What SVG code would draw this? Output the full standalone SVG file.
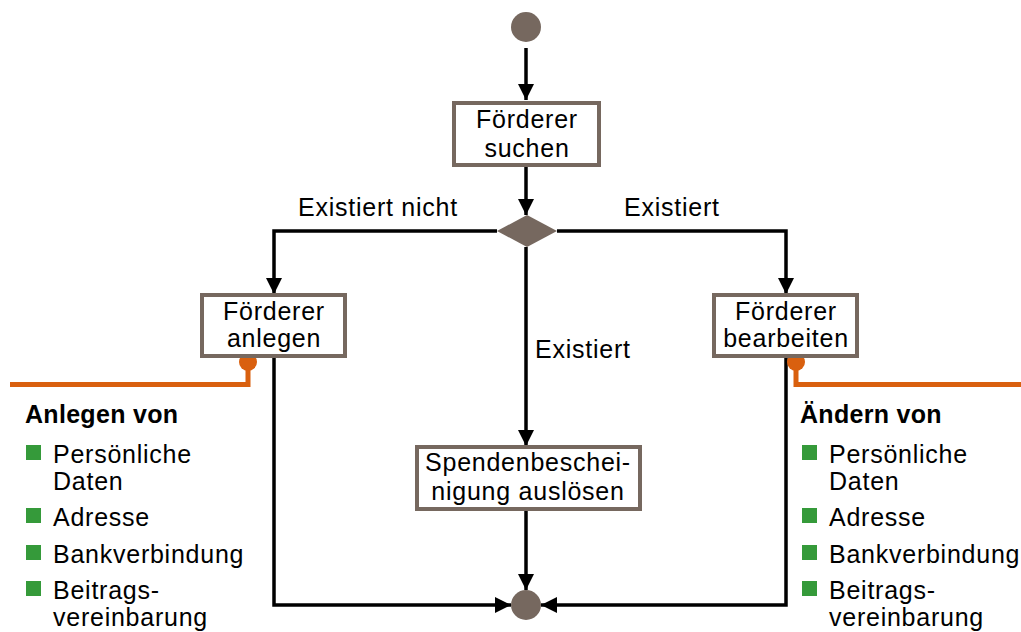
<svg xmlns="http://www.w3.org/2000/svg" width="1021" height="632" viewBox="0 0 1021 632">
<style>
.t{font-family:"Liberation Sans",Arial,sans-serif;font-size:25px;letter-spacing:0.75px;fill:#000}
.c{text-anchor:middle}
.b{font-weight:bold}
.box{fill:#fff;stroke:#76685F;stroke-width:4}
.ln{fill:none;stroke:#000;stroke-width:3.5}
.or{fill:none;stroke:#D9600F;stroke-width:5}
.sq{fill:#359A3A}
</style>
<defs>
<marker id="ah" markerWidth="16" markerHeight="16" viewBox="0 0 16 16" refX="16" refY="8" orient="auto" markerUnits="userSpaceOnUse">
<path d="M0,0 L16,8 L0,16 Z" fill="#000"/>
</marker>
</defs>
<g id="connectors">
<line class="ln" x1="526" y1="48" x2="526" y2="100" marker-end="url(#ah)"/>
<line class="ln" x1="526" y1="166" x2="526" y2="215" marker-end="url(#ah)"/>
<polyline class="ln" points="497,231 274,231 274,294" marker-end="url(#ah)"/>
<polyline class="ln" points="557,231 786,231 786,294" marker-end="url(#ah)"/>
<line class="ln" x1="526" y1="247" x2="526" y2="446" marker-end="url(#ah)"/>
<line class="ln" x1="526" y1="510" x2="526" y2="590" marker-end="url(#ah)"/>
<polyline class="ln" points="274,357 274,605 511,605" marker-end="url(#ah)"/>
<polyline class="ln" points="786,357 786,605 541,605" marker-end="url(#ah)"/>
<polyline class="or" points="10,384.5 248,384.5 248,363"/>
<circle cx="248" cy="362" r="9" fill="#D9600F"/>
<polyline class="or" points="796,363 796,384.5 1021,384.5"/>
<circle cx="796" cy="362" r="9" fill="#D9600F"/>
<text class="t" x="298" y="216">Existiert nicht</text>
<text class="t" x="624" y="216">Existiert</text>
<text class="t" x="535" y="358">Existiert</text>
</g>
<g id="start"><circle cx="526" cy="27" r="15" fill="#76685F"/></g>
<g id="suchen">
<rect class="box" x="454" y="103" width="145" height="62"/>
<text class="t c" x="527" y="128">Förderer</text>
<text class="t c" x="527" y="157">suchen</text>
</g>
<g id="decision"><polygon points="497,231 527,215 557,231 527,247" fill="#76685F"/></g>
<g id="anlegen">
<rect class="box" x="202" y="295" width="143" height="61"/>
<text class="t c" x="274" y="320">Förderer</text>
<text class="t c" x="274" y="347">anlegen</text>
</g>
<g id="bearbeiten">
<rect class="box" x="714" y="295" width="143" height="61"/>
<text class="t c" x="786" y="320">Förderer</text>
<text class="t c" x="786" y="347">bearbeiten</text>
</g>
<g id="spenden">
<rect class="box" x="417" y="447" width="223" height="62"/>
<text class="t c" x="528" y="471">Spendenbeschei-</text>
<text class="t c" x="528" y="500">nigung auslösen</text>
</g>
<g id="end"><circle cx="526" cy="605" r="15" fill="#76685F"/></g>
<g id="legend-left">
<text class="t b" x="25" y="423" style="letter-spacing:0.3px">Anlegen von</text>
<rect class="sq" x="26" y="445" width="15" height="15"/>
<text class="t" x="53" y="463">Persönliche</text>
<text class="t" x="53" y="490">Daten</text>
<rect class="sq" x="26" y="508" width="15" height="15"/>
<text class="t" x="53" y="526">Adresse</text>
<rect class="sq" x="26" y="545" width="15" height="15"/>
<text class="t" x="53" y="563">Bankverbindung</text>
<rect class="sq" x="26" y="581" width="15" height="15"/>
<text class="t" x="53" y="599">Beitrags-</text>
<text class="t" x="53" y="626">vereinbarung</text>
</g>
<g id="legend-right">
<text class="t b" x="800" y="423" style="letter-spacing:0.3px">Ändern von</text>
<rect class="sq" x="802" y="445" width="15" height="15"/>
<text class="t" x="829" y="463">Persönliche</text>
<text class="t" x="829" y="490">Daten</text>
<rect class="sq" x="802" y="508" width="15" height="15"/>
<text class="t" x="829" y="526">Adresse</text>
<rect class="sq" x="802" y="545" width="15" height="15"/>
<text class="t" x="829" y="563">Bankverbindung</text>
<rect class="sq" x="802" y="581" width="15" height="15"/>
<text class="t" x="829" y="599">Beitrags-</text>
<text class="t" x="829" y="626">vereinbarung</text>
</g>
</svg>
